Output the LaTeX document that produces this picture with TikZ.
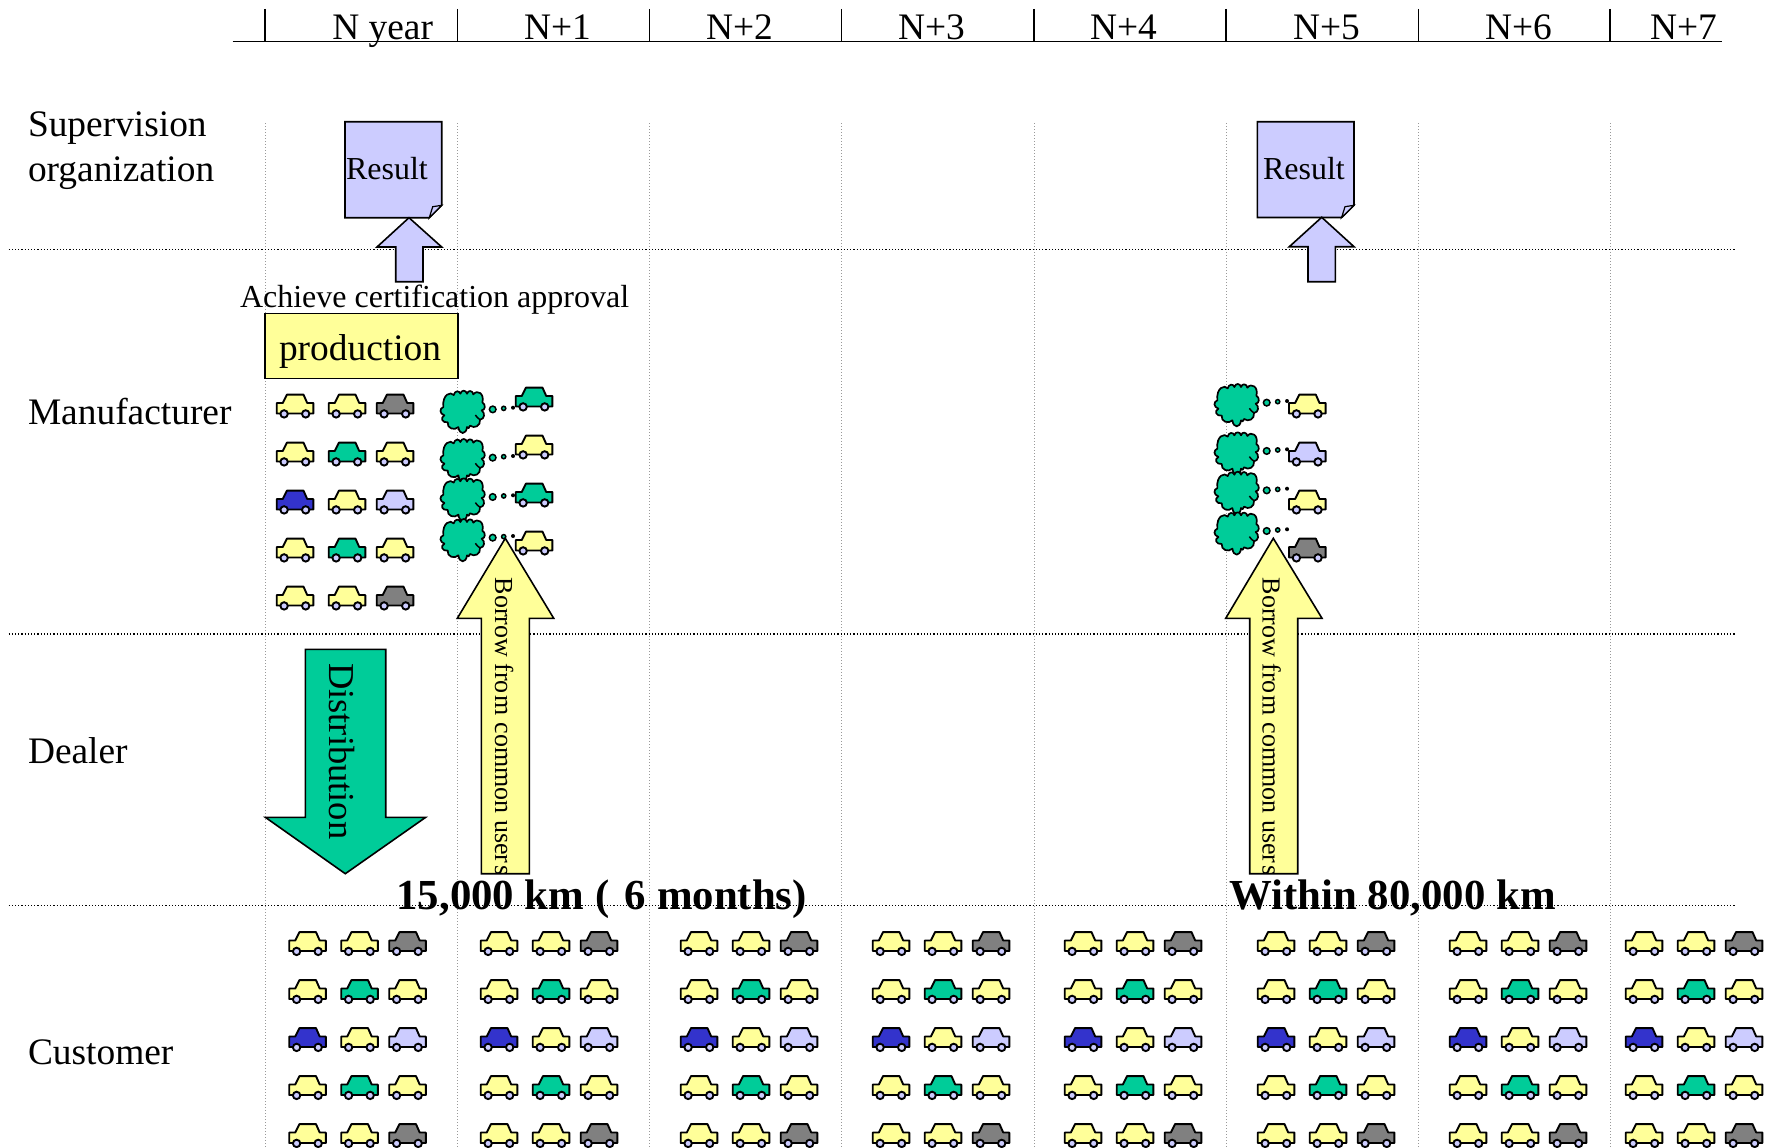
\documentclass[tikz,border=0pt]{standalone}
\usepackage{fontspec}
\setmainfont{Liberation Serif}
\definecolor{cyel}{HTML}{FFFF99}
\definecolor{cgrn}{HTML}{00CC99}
\definecolor{cblu}{HTML}{3333CC}
\definecolor{clav}{HTML}{CCCCFF}
\definecolor{cgry}{HTML}{808080}
\tikzset{
  lbl/.style={inner sep=0pt,outer sep=0pt,anchor=base west,font=\fontsize{37.4}{40}\selectfont},
  small/.style={inner sep=0pt,outer sep=0pt,anchor=base west,font=\fontsize{32}{34}\selectfont},
  big/.style={inner sep=0pt,outer sep=0pt,anchor=base west,font=\fontsize{42.8}{46}\selectfont\bfseries},
  vtext/.style={inner sep=0pt,outer sep=0pt,anchor=base west,rotate=-90,font=\fontsize{26}{28}\selectfont},
  shape line/.style={draw=black,line width=1.6pt,line join=miter},
  gridv/.style={draw=black!40,line width=1pt,dash pattern=on 1pt off 2pt},
  gridh/.style={draw=black,line width=1.1pt,dash pattern=on 1.2pt off 2pt},
}
\newcommand{\carshape}[3]{%
  \begin{scope}[shift={(#1,#2+1)}]
    \draw[fill=#3,draw=black,line width=1.9pt,line join=round]
      (-18.3,-3) -- (-12.2,-3) -- (-8,-11.4) -- (8.5,-11.4) -- (12.2,-3) -- (18.3,-3) -- (18.3,7.5) -- (-18.3,7.5) -- cycle;
    \draw[fill=clav,draw=black,line width=1.9pt] (-10.9,7.9) circle (3.7pt);
    \draw[fill=clav,draw=black,line width=1.9pt] (10.7,7.9) circle (3.7pt);
  \end{scope}}
\newcommand{\carblock}[2]{%
  \carshape{#1}{#2}{cyel}\carshape{#1+52}{#2}{cyel}\carshape{#1+100}{#2}{cgry}%
  \carshape{#1}{#2+48}{cyel}\carshape{#1+52}{#2+48}{cgrn}\carshape{#1+100}{#2+48}{cyel}%
  \carshape{#1}{#2+96}{cblu}\carshape{#1+52}{#2+96}{cyel}\carshape{#1+100}{#2+96}{clav}%
  \carshape{#1}{#2+144}{cyel}\carshape{#1+52}{#2+144}{cgrn}\carshape{#1+100}{#2+144}{cyel}%
  \carshape{#1}{#2+192}{cyel}\carshape{#1+52}{#2+192}{cyel}\carshape{#1+100}{#2+192}{cgry}}
\newcommand{\thought}[2]{%
  \begin{scope}[shift={(#1,#2)},x=0.3333pt,y=-0.3333pt]
    \draw[fill=cgrn,draw=black,line width=1.7pt,line join=round]
      (-58,-14) .. controls (-62,-52) and (-36,-62) .. (-27,-50)
      .. controls (-24,-64) and (-10,-64) .. (-7,-54)
      .. controls (-4,-66) and (10,-66) .. (13,-54)
      .. controls (16,-66) and (30,-64) .. (32,-52)
      .. controls (44,-68) and (66,-54) .. (59,-28)
      .. controls (70,-22) and (68,-4) .. (57,-4)
      .. controls (68,4) and (66,22) .. (52,24)
      .. controls (54,42) and (36,52) .. (22,42)
      .. controls (20,50) and (16,52) .. (13,46)
      .. controls (10,70) and (-10,70) .. (-13,46)
      .. controls (-24,58) and (-48,50) .. (-45,32)
      .. controls (-62,34) and (-68,18) .. (-55,11)
      .. controls (-70,6) and (-70,-10) .. (-58,-14) -- cycle;
    \draw[black,line width=1.5pt] (52,24) .. controls (46,20) and (42,16) .. (38,10);
    \draw[fill=cgrn,line width=1.5pt] (90,-7) circle (3.3pt);
    \draw[fill=cgrn,line width=1.5pt] (123,-10) circle (2.1pt);
    \fill[black] (151,-12) circle (2pt);
  \end{scope}}
\begin{document}
\begin{tikzpicture}[x=1pt,y=-1pt]
\useasboundingbox (0,0) rectangle (1765,1148);
% grid
\foreach \gx in {265,457.3,649.5,841.7,1034,1226,1418.5,1610}{
  \draw[gridv] (\gx,123) -- (\gx,1148);
  \draw[black,line width=1.3pt] (\gx,9) -- (\gx,41.5);
}
\draw[black,line width=1.8pt] (232.7,41.5) -- (1722.3,41.5);
\foreach \gy in {249.5,634,905.7}{\draw[gridh] (8.6,\gy) -- (1735,\gy);}
% header
\node[lbl] (hn) at (332.3,40) {N year};
\node[lbl] (h1) at (524,40) {N+1};
\node[lbl] (h2) at (706,40) {N+2};
\node[lbl] (h3) at (898,40) {N+3};
\node[lbl] (h4) at (1090,40) {N+4};
\node[lbl] (h5) at (1293,40) {N+5};
\node[lbl] (h6) at (1485,40) {N+6};
\node[lbl] (h7) at (1650,40) {N+7};
% rows
\node[lbl] (r1a) at (28,136) {Supervision};
\node[lbl] (r1b) at (28,181) {organization};
\node[lbl] (r2) at (28,424) {Manufacturer};
\node[lbl] (r3) at (28,763) {Dealer};
\node[lbl] (r4) at (28,1064) {Customer};
% documents
\draw[shape line,fill=clav] (345,121.7) -- (441.7,121.7) -- (441.7,205.3) -- (429.3,217.7) -- (345,217.7) -- cycle;
\draw[shape line,fill=clav,line width=1.2pt] (429.3,217.7) -- (432.7,206.7) -- (441.7,205.3) -- cycle;
\draw[shape line,fill=clav] (1257.3,121.7) -- (1354,121.7) -- (1354,205.3) -- (1341.6,217.5) -- (1257.3,217.5) -- cycle;
\draw[shape line,fill=clav,line width=1.2pt] (1341.6,217.5) -- (1345,206.7) -- (1354,205.3) -- cycle;
\node[small] (res1) at (346,179) {Result};
\node[small] (res2) at (1263,179) {Result};
% up arrows
\draw[shape line,fill=clav] (409,217.7) -- (441.7,247) -- (423,247) -- (423,281.7) -- (395.7,281.7) -- (395.7,247) -- (377,247) -- cycle;
\draw[shape line,fill=clav] (1321.7,217.3) -- (1354,246.7) -- (1335.3,246.7) -- (1335.3,281.7) -- (1308,281.7) -- (1308,246.7) -- (1289.3,246.7) -- cycle;
% certification
\node[small] (cert) at (240,307.5) {Achieve certification approval};
\draw[shape line,fill=cyel] (265,313.3) rectangle (457.7,378.5);
\node[lbl] (prod) at (279,360.5) {production};
% manufacturer cars
\carblock{295}{405}
% thoughts
\thought{462.7}{411.7}
\thought{462.7}{460}
\thought{462.7}{499.3}
\thought{462.7}{540}
\thought{1236.7}{405}
\thought{1236.7}{453.3}
\thought{1236.7}{492.7}
\thought{1236.7}{533.3}
% distribution arrow
\draw[shape line,fill=cgrn] (305.3,649.3) -- (385.7,649.3) -- (385.7,817.3) -- (425.7,817.3) -- (345.3,873.7) -- (265.3,817.3) -- (305.3,817.3) -- cycle;
\node[lbl,rotate=-90,font=\fontsize{36.5}{40}\selectfont] (dist) at (329,663) {Distribution};
% borrow arrows
\draw[shape line,fill=cyel] (505.3,538.3) -- (553.7,618.3) -- (529.3,618.3) -- (529.3,873.7) -- (481.3,873.7) -- (481.3,618.3) -- (457.3,618.3) -- cycle;
\begin{scope}
  \clip (470,560) rectangle (540,873);
  \node[vtext] (bor1) at (495,577.7) {Borrow fro\kern2pt m common user\kern2pt s};
\end{scope}
\draw[shape line,fill=cyel] (1273.3,538.3) -- (1322,618.3) -- (1297.7,618.3) -- (1297.7,873.7) -- (1249.7,873.7) -- (1249.7,618.3) -- (1225.7,618.3) -- cycle;
\begin{scope}
  \clip (1240,560) rectangle (1310,873);
  \node[vtext] (bor2) at (1262.7,577.7) {Borrow fro\kern2pt m common user\kern2pt s};
\end{scope}
% cars beside thoughts
\carshape{534}{398}{cgrn}
\carshape{534}{446}{cyel}
\carshape{534}{494}{cgrn}
\carshape{534}{542}{cyel}
\carshape{1307.3}{405}{cyel}
\carshape{1307.3}{453}{clav}
\carshape{1307.3}{501}{cyel}
\carshape{1307.3}{549}{cgry}
% customer cars
\carblock{307.5}{942.5}
\carblock{499}{942.5}
\carblock{699}{942.5}
\carblock{891}{942.5}
\carblock{1083}{942.5}
\carblock{1276}{942.5}
\carblock{1468}{942.5}
\carblock{1644}{942.5}
% bold captions
\node[big] (km1) at (396.5,909) {15,000 km (\kern5pt\ 6 months)};
\node[big] (km2) at (1229.5,909.3) {Within 80,000 km};
\end{tikzpicture}
\end{document}
